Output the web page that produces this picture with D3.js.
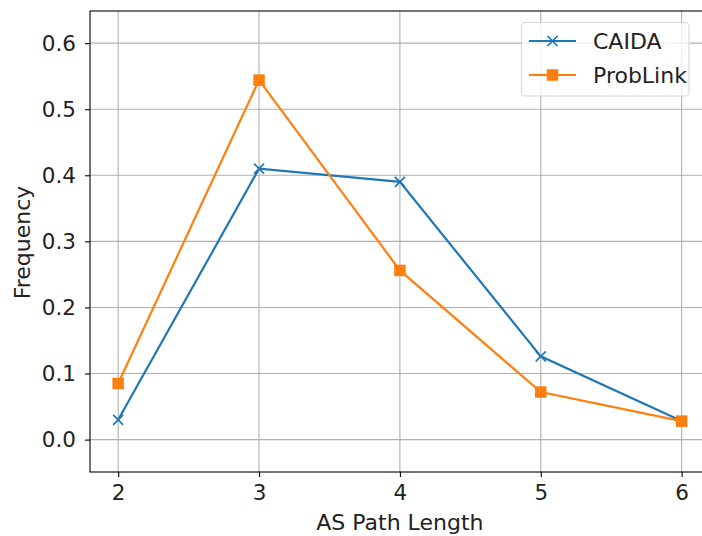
<!DOCTYPE html>
<html lang="en">
<head>
<meta charset="UTF-8">
<title>AS Path Length</title>
<script src="https://d3js.org/d3.v7.min.js"></script>
<style>
body { margin: 0; background: #fff; }
svg { display: block; font-family: "DejaVu Sans", sans-serif; }
.grid line { stroke: #b0b0b0; stroke-width: 1.1; }
.axis path { display: none; }
.axis line { stroke: #000; stroke-width: 1.1; }
.axis text { font-size: 21.5px; fill: #222; font-family: "DejaVu Sans", sans-serif; }
</style>
</head>
<body>
<script>
// data
var pathLengths = [2, 3, 4, 5, 6];
var caida = [0.030, 0.410, 0.390, 0.126, 0.028];
var probLink = [0.085, 0.544, 0.256, 0.072, 0.028];
var yTicks = [0.0, 0.1, 0.2, 0.3, 0.4, 0.5, 0.6];

var width = 702, height = 536;
var plotLeft = 90, plotTop = 11, plotBottom = 472, plotRight = 709.8;

var svg = d3.select("body").append("svg")
    .attr("width", width)
    .attr("height", height);

var x = d3.scaleLinear().domain([1.8, 6.2]).range([plotLeft, plotRight]);
var y = d3.scaleLinear().domain([-0.049, 0.6486]).range([plotBottom, plotTop]);

// grid
var grid = svg.append("g").attr("class", "grid");
grid.selectAll(".gx").data(pathLengths).enter().append("line")
    .attr("x1", function(d) { return x(d); }).attr("x2", function(d) { return x(d); })
    .attr("y1", plotTop).attr("y2", plotBottom);
grid.selectAll(".gy").data(yTicks).enter().append("line")
    .attr("x1", plotLeft).attr("x2", plotRight)
    .attr("y1", function(d) { return y(d); }).attr("y2", function(d) { return y(d); });

// axes
var xAxis = d3.axisBottom(x).tickValues(pathLengths).tickFormat(d3.format("d"))
    .tickSizeInner(5).tickSizeOuter(0).tickPadding(8);
svg.append("g").attr("class", "axis")
    .attr("transform", "translate(0," + plotBottom + ")")
    .call(xAxis);

var yAxis = d3.axisLeft(y).tickValues(yTicks).tickFormat(d3.format(".1f"))
    .tickSizeInner(5).tickSizeOuter(0).tickPadding(9);
svg.append("g").attr("class", "axis")
    .attr("transform", "translate(" + plotLeft + ",0)")
    .call(yAxis);

// frame
svg.append("rect")
    .attr("x", plotLeft).attr("y", plotTop)
    .attr("width", plotRight - plotLeft).attr("height", plotBottom - plotTop)
    .attr("fill", "none").attr("stroke", "#000").attr("stroke-width", 1.1);

// labels
svg.append("text")
    .attr("x", x(4)).attr("y", 530)
    .attr("text-anchor", "middle")
    .attr("font-size", "22px").attr("fill", "#222")
    .text("AS Path Length");

svg.append("text")
    .attr("transform", "translate(30," + ((plotTop + plotBottom) / 2 + 1) + ") rotate(-90)")
    .attr("text-anchor", "middle")
    .attr("font-size", "22px").attr("fill", "#222")
    .text("Frequency");

// lines
var line = d3.line()
    .x(function(d, i) { return x(pathLengths[i]); })
    .y(function(d) { return y(d); });

var series = [
    { name: "CAIDA", values: caida, color: "#1f77b4", marker: "x" },
    { name: "ProbLink", values: probLink, color: "#ff7f0e", marker: "s" }
];

function drawMarker(g, type, color, cx, cy) {
    if (type === "s") {
        g.append("rect")
            .attr("x", cx - 5.75).attr("y", cy - 5.75)
            .attr("width", 11.5).attr("height", 11.5)
            .attr("fill", color);
    } else {
        var r = 5;
        g.append("path")
            .attr("d", "M" + (cx - r) + "," + (cy - r) + "L" + (cx + r) + "," + (cy + r) +
                       "M" + (cx - r) + "," + (cy + r) + "L" + (cx + r) + "," + (cy - r))
            .attr("stroke", color).attr("stroke-width", 1.7).attr("fill", "none");
    }
}

series.forEach(function(s) {
    var g = svg.append("g");
    g.append("path")
        .attr("d", line(s.values))
        .attr("fill", "none")
        .attr("stroke", s.color)
        .attr("stroke-width", 2.2);
    s.values.forEach(function(v, i) {
        drawMarker(g, s.marker, s.color, x(pathLengths[i]), y(v));
    });
});

// legend
var legend = svg.append("g");
legend.append("rect")
    .attr("x", 521.5).attr("y", 22.5)
    .attr("width", 167.5).attr("height", 73.5)
    .attr("rx", 4).attr("ry", 4)
    .attr("fill", "#fff").attr("fill-opacity", 0.8)
    .attr("stroke", "#d8d8d8").attr("stroke-width", 1.1);

series.forEach(function(s, i) {
    var ly = 41 + i * 34;
    legend.append("line")
        .attr("x1", 529).attr("x2", 576)
        .attr("y1", ly).attr("y2", ly)
        .attr("stroke", s.color).attr("stroke-width", 2.2);
    drawMarker(legend, s.marker, s.color, 552.5, ly);
    legend.append("text")
        .attr("x", 593).attr("y", ly + 8)
        .attr("font-size", "22px").attr("fill", "#222")
        .text(s.name);
});
</script>
</body>
</html>
